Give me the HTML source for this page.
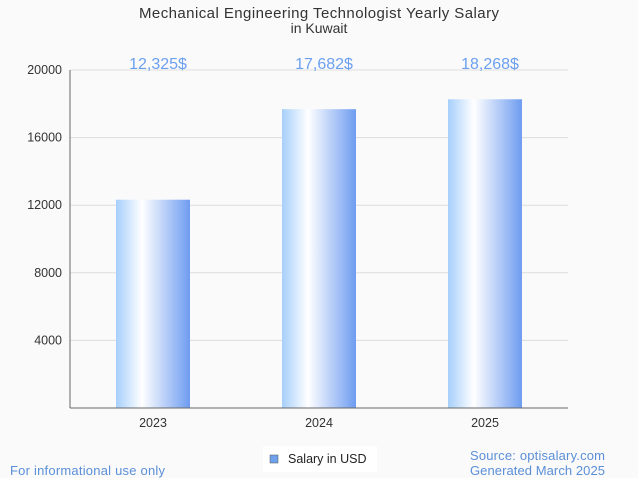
<!DOCTYPE html>
<html><head><meta charset="utf-8"><style>
body{margin:0;background:#fafafa;font-family:"Liberation Sans",sans-serif;}
svg{display:block}
</style></head><body>
<svg id="c" width="638" height="478">
<defs><linearGradient id="g" x1="0" x2="1" y1="0" y2="0">
<stop offset="0" stop-color="#a6cffb"/><stop offset="0.35" stop-color="#ffffff"/><stop offset="1" stop-color="#6e9cf0"/>
</linearGradient></defs>
<rect width="638" height="478" fill="#fafafa"/>
<text x="319" y="18" font-size="15" text-anchor="middle" fill="#333" textLength="360">Mechanical Engineering Technologist Yearly Salary</text>
<text x="319" y="33" font-size="14" text-anchor="middle" fill="#333">in Kuwait</text>
<g id="grid"></g><g id="bars"></g>
<line x1="70" y1="70" x2="70" y2="408" stroke="#666"/>
<line x1="70" y1="408" x2="568" y2="408" stroke="#666"/>
<rect x="263" y="446" width="114" height="26" fill="#fff"/>
<rect x="270" y="455" width="8" height="8" fill="#6ea2ec" stroke="#555" stroke-width="0.5"/>
<text x="288" y="463" font-size="12.5" fill="#222">Salary in USD</text>
<text x="10" y="475" font-size="13" fill="#5b8fd8" textLength="155">For informational use only</text>
<text x="470" y="460" font-size="13" fill="#5b8fd8" textLength="135">Source: optisalary.com</text>
<text x="470" y="475" font-size="13" fill="#5b8fd8" textLength="135">Generated March 2025</text>
</svg>
<script>
const categories=["2023","2024","2025"];
const values=[12325,17682,18268];
const labels=["12,325$","17,682$","18,268$"];
const ticks=[4000,8000,12000,16000,20000];
const NS="http://www.w3.org/2000/svg";
const y=v=>408-v*(338/20000);
const x=i=>70+166*i+83;
function mk(t,a,p){const e=document.createElementNS(NS,t);for(const k in a)e.setAttribute(k,a[k]);p.appendChild(e);return e;}
const grid=document.getElementById('grid'),bars=document.getElementById('bars');
ticks.forEach(t=>{
 const l=mk('line',{x1:70,x2:568,y1:y(t),y2:y(t),stroke:'#ddd'},grid);
 
 
 const tx=mk('text',{x:62,y:y(t)+4,'font-size':12.5,'text-anchor':'end',fill:'#333'},grid);
 tx.textContent=t;
 
 
});
categories.forEach((c,i)=>{
 const r=mk('rect',{x:x(i)-37,y:y(values[i]),width:74,height:408-y(values[i]),fill:'url(#g)'},bars);
 
 
 const t=mk('text',{x:x(i),y:427,'font-size':12.5,'text-anchor':'middle',fill:'#333'},bars);
 t.textContent=c;
 
 
 const v=mk('text',{x:x(i)+5,y:69,'font-size':16,'text-anchor':'middle',fill:'#6b9ff0'},bars);
 v.textContent=labels[i];
 
 
});
</script>
</body></html>
